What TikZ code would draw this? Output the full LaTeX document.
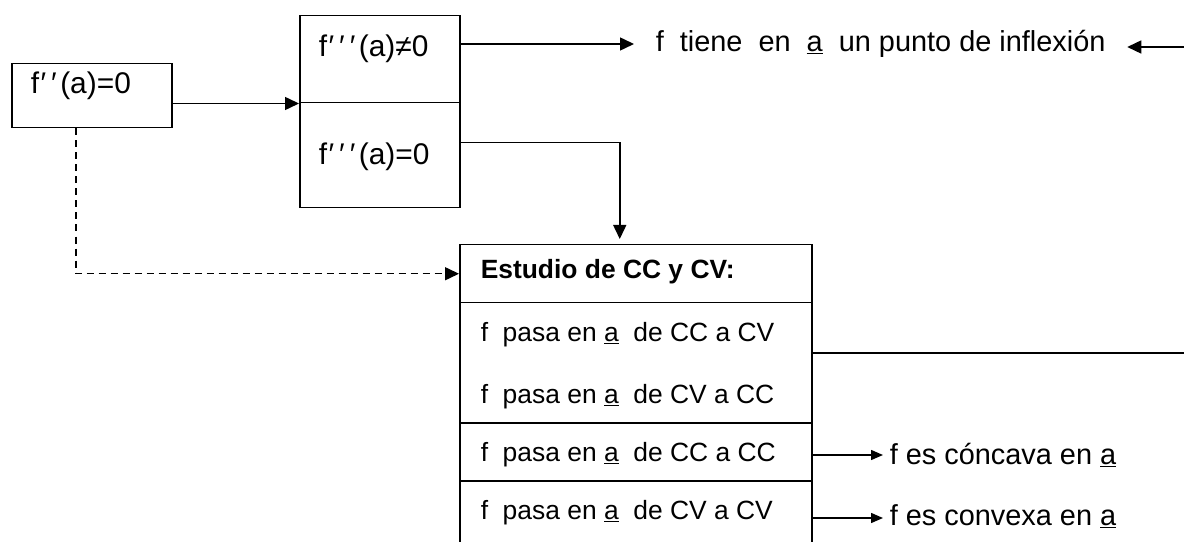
\documentclass[tikz,border=0pt]{standalone}
\usepackage{fontspec}
\setmainfont{Liberation Sans}
\usetikzlibrary{arrows.meta}
\newcommand{\pr}{\kern1.5bp′\kern3.5bp}
\begin{document}
\begin{tikzpicture}[x=1bp,y=-1bp,line width=1.5bp,
  cell/.style={draw,line width=1.5bp,inner sep=0pt,anchor=north west},
  txt/.style={inner sep=0pt,anchor=west,font=\fontsize{26.5}{30}\selectfont},
  ltxt/.style={inner sep=0pt,anchor=west,font=\fontsize{29}{33}\selectfont},
  btxt/.style={inner sep=0pt,anchor=west,font=\fontsize{30}{34}\selectfont},
  arr/.style={-{Triangle[length=14bp,width=13bp]}},
  sarr/.style={-{Triangle[length=12bp,width=10bp]}},
  dsh/.style={dash pattern=on 7bp off 5bp}]
\useasboundingbox (0,0) rectangle (1184,542);
\clip (0,0) rectangle (1184,542);
% cells
\node[cell,minimum width=160bp,minimum height=64bp] (n1) at (11,63) {};
\node[cell,minimum width=160bp,minimum height=87bp] (t2) at (299,15) {};
\node[cell,minimum width=160bp,minimum height=105bp] (b2) at (299,102) {};
\node[cell,minimum width=352bp,minimum height=58bp] (hd) at (459,244) {};
\node[cell,minimum width=352bp,minimum height=120bp] (r1) at (459,302) {};
\node[cell,minimum width=352bp,minimum height=58bp] (r3) at (459,422) {};
\node[cell,minimum width=352bp,minimum height=70bp] (r4) at (459,480) {};
% texts
\node[btxt] (n1t) at (30,86) {f\pr\pr(a)=0};
\node[btxt] (t2t) at (318,49) {f\pr\pr\pr(a)≠0};
\node[btxt] (b2t) at (318,157) {f\pr\pr\pr(a)=0};
\node[ltxt,inner xsep=21bp] (inf) at (634,44) {f\ \ tiene\ \ en\ \ \underline{a}\ \ un punto de inflexión};
\node[txt,font=\fontsize{26.5}{30}\selectfont\bfseries] (hdt) at (480,272) {Estudio de CC y CV:};
\node[txt] (r1t) at (480,335) {f\ \ pasa en \underline{a}\ \ de CC a CV};
\node[txt] (r2t) at (480,397) {f\ \ pasa en \underline{a}\ \ de CV a CC};
\node[txt] (r3t) at (480,455) {f\ \ pasa en \underline{a}\ \ de CC a CC};
\node[txt] (r4t) at (480,513) {f\ \ pasa en \underline{a}\ \ de CV a CV};
\node[ltxt,inner xsep=6bp] (conc) at (883,455) {f es cóncava en \underline{a}};
\node[ltxt,inner xsep=6bp] (conv) at (883,516) {f es convexa en \underline{a}};
\coordinate (edge) at (1192,0);
\coordinate (infr) at ([yshift=-3bp]inf.east);
\coordinate (cvw) at ([yshift=-2bp]conv.west);
% connectors
\draw[arr] (n1.east |- t2.south) -- (t2.south west);
\draw[arr] (t2.east |- inf.west) -- (inf.west);
\draw[arr,shorten >=5bp] ([yshift=12.5bp]b2.east) -| ([xshift=-16bp]hd.north);
\draw[arr,dsh] ([xshift=-16bp]n1.south) |- (hd.west);
\draw[arr] ([yshift=10bp]r1.east) -| (edge |- infr) -- (infr);
\draw[sarr] (r3.east |- conc.west) -- (conc.west);
\draw[sarr] (r4.east |- cvw) -- (cvw);
\end{tikzpicture}
\end{document}
